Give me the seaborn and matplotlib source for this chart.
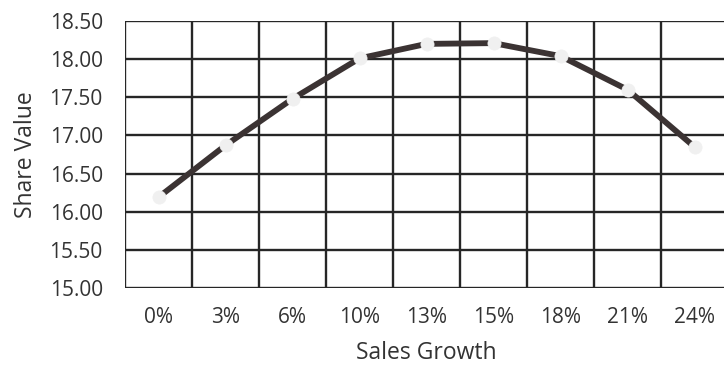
import matplotlib
matplotlib.use("Agg")
import matplotlib.pyplot as plt
import seaborn as sns
import pandas as pd
import numpy as np

categories = ["0%", "3%", "6%", "10%", "13%", "15%", "18%", "21%", "24%"]
share_values = [16.19, 16.87, 17.48, 18.01, 18.20, 18.21, 18.04, 17.60, 16.85]
y_ticks = [15.00, 15.50, 16.00, 16.50, 17.00, 17.50, 18.00, 18.50]

sns.set_theme(style="white")
plt.rcParams['font.family'] = ['Open Sans', 'DejaVu Sans']

df = pd.DataFrame({"x": np.arange(len(categories)), "y": share_values})

fig = plt.figure(figsize=(7.24, 3.70), dpi=100)
left, right = 125 / 724, 728 / 724
bottom, top = 1 - 288 / 370, 1 - 21 / 370
ax = fig.add_axes([left, bottom, right - left, top - bottom])

# grid lines
for v in y_ticks:
    ax.axhline(v, color="#262626", lw=1.7, zorder=1)
for b in np.arange(-0.5, len(categories) + 0.5, 1.0):
    ax.axvline(b, color="#262626", lw=1.7, zorder=1)

sns.lineplot(data=df, x="x", y="y", ax=ax, color="#3b3333", lw=4.2,
             marker="o", markersize=9.5, markerfacecolor="#f0f0f0",
             markeredgecolor="#f0f0f0", markeredgewidth=0.5, zorder=3,
             solid_capstyle="butt")

ax.set_xlim(-0.5, len(categories) - 0.5)
ax.set_ylim(15.0, 18.5)
ax.set_yticks(y_ticks)
ax.set_yticklabels([f"{v:.2f}" for v in y_ticks])
ax.set_xticks(np.arange(len(categories)))
ax.set_xticklabels(categories)
ax.tick_params(axis="both", length=0, labelsize=15, colors="#333333")
ax.tick_params(axis="x", pad=14)
ax.tick_params(axis="y", pad=16)
for s in ax.spines.values():
    s.set_visible(False)

ax.set_xlabel("Sales Growth", fontsize=16.5, color="#333333", labelpad=9)
ax.set_ylabel("Share Value", fontsize=16.5, color="#333333", labelpad=8)

fig.savefig("out.png", dpi=100)
